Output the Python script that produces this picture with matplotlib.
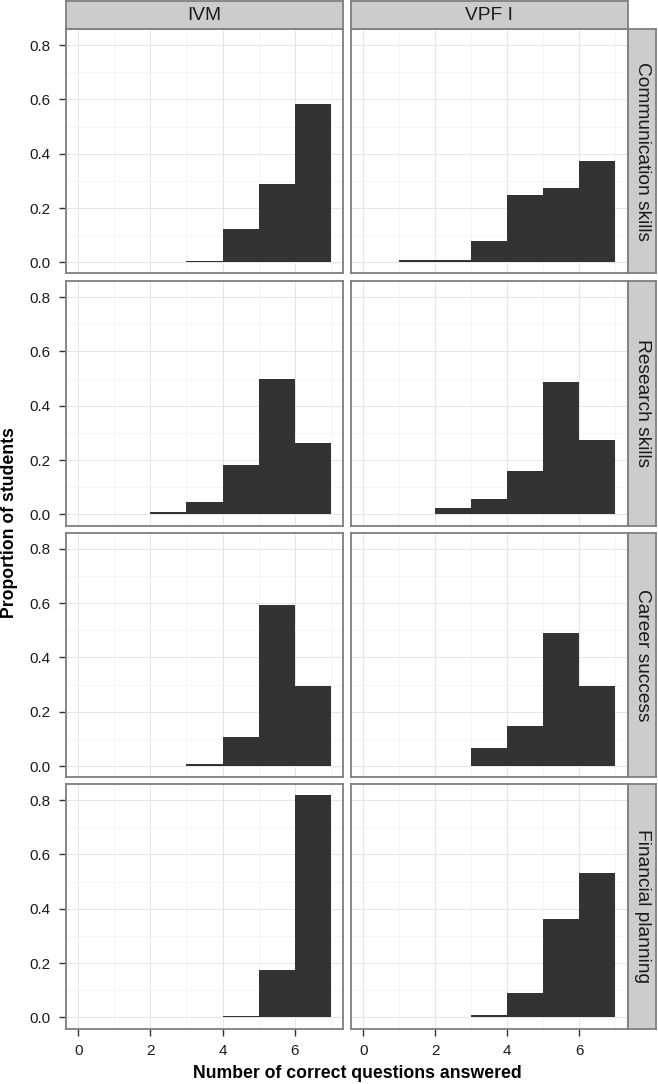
import matplotlib
matplotlib.use("Agg")
import matplotlib.pyplot as plt

plt.rcParams['font.family'] = ['Liberation Sans', 'DejaVu Sans']

# ---- data ----
bin_left = [0, 1, 2, 3, 4, 5, 6]
columns = ["IVM", "VPF I"]
rows = ["Communication skills", "Research skills", "Career success", "Financial planning"]

comm_ivm = [0, 0, 0, 0.005, 0.124, 0.290, 0.582]
comm_vpf = [0, 0.010, 0.010, 0.080, 0.248, 0.272, 0.373]
res_ivm = [0, 0, 0.007, 0.046, 0.182, 0.499, 0.263]
res_vpf = [0, 0, 0.022, 0.057, 0.159, 0.488, 0.272]
car_ivm = [0, 0, 0, 0.007, 0.106, 0.591, 0.296]
car_vpf = [0, 0, 0, 0.068, 0.147, 0.488, 0.296]
fin_ivm = [0, 0, 0, 0, 0.006, 0.173, 0.818]
fin_vpf = [0, 0, 0, 0.010, 0.091, 0.362, 0.533]

panel_values = [
    [comm_ivm, comm_vpf],
    [res_ivm, res_vpf],
    [car_ivm, car_vpf],
    [fin_ivm, fin_vpf],
]

x_ticks = [0, 2, 4, 6]
y_ticks = [0.0, 0.2, 0.4, 0.6, 0.8]
y_tick_labels = ["0.0", "0.2", "0.4", "0.6", "0.8"]
x_label = "Number of correct questions answered"
y_label = "Proportion of students"

# ---- layout (pixels) ----
W, H = 658, 1084
DPI = 100
fig = plt.figure(figsize=(W / DPI, H / DPI), dpi=DPI)

col_x = [65.5, 350.7]
col_w = [278.0, 277.0]
row_y = [29.0, 281.0, 532.7, 784.0]
row_h = 244.5
strip_top = 1.0
strip_h = 28.0
rstrip_x = 627.7
rstrip_w = 28.5

BORDER = "#7F7F7F"
STRIP_FILL = "#CCCCCC"
BAR = "#333333"

def fx(px):
    return px / W

def fy(py):
    return 1 - py / H

xlim = (-0.35, 7.35)
ymax = max(max(v) for r in panel_values for v in r)
ylim = (-0.05 * ymax, ymax * 1.05)

for r in range(4):
    for c in range(2):
        ax = fig.add_axes([fx(col_x[c]), fy(row_y[r] + row_h), col_w[c] / W, row_h / H])
        vals = panel_values[r][c]
        ax.bar(bin_left, vals, width=1.0, align='edge', color=BAR, linewidth=0, zorder=3)
        ax.set_xlim(*xlim)
        ax.set_ylim(*ylim)
        ax.set_xticks(x_ticks)
        ax.set_xticks([1, 3, 5, 7], minor=True)
        ax.set_yticks(y_ticks)
        ax.set_yticks([0.1, 0.3, 0.5, 0.7], minor=True)
        ax.grid(True, which='major', color="#E5E5E5", linewidth=0.7, zorder=0)
        ax.grid(True, which='minor', color="#F4F4F4", linewidth=0.6, zorder=0)
        ax.set_axisbelow(True)
        for s in ax.spines.values():
            s.set_color(BORDER)
            s.set_linewidth(1.3)
            s.set_zorder(5)
        ax.tick_params(which='minor', length=0)
        ax.tick_params(which='major', length=5, width=1.0, color="#333333",
                       labelsize=11, labelcolor="#1A1A1A")
        if c == 0:
            ax.set_yticklabels(y_tick_labels)
            ax.tick_params(axis='y', pad=6)
        else:
            ax.tick_params(axis='y', length=0, labelleft=False)
        if r == 3:
            ax.tick_params(axis='x', pad=6)
        else:
            ax.tick_params(axis='x', length=0, labelbottom=False)

        # top strips
        if r == 0:
            sax = fig.add_axes([fx(col_x[c]), fy(strip_top + strip_h), col_w[c] / W, strip_h / H])
            sax.set_facecolor(STRIP_FILL)
            sax.set_xticks([]); sax.set_yticks([])
            for s in sax.spines.values():
                s.set_color(BORDER); s.set_linewidth(1.3)
            sax.text(0.5, 0.47, columns[c], ha='center', va='center',
                     fontsize=13.8, color="#1A1A1A", transform=sax.transAxes)
    # right strips
    rax = fig.add_axes([fx(rstrip_x), fy(row_y[r] + row_h), rstrip_w / W, row_h / H])
    rax.set_facecolor(STRIP_FILL)
    rax.set_xticks([]); rax.set_yticks([])
    for s in rax.spines.values():
        s.set_color(BORDER); s.set_linewidth(1.3)
    rax.text(0.52, 0.5, rows[r], ha='center', va='center', rotation=-90,
             fontsize=13.8, color="#1A1A1A", transform=rax.transAxes)

fig.text(fx(357), fy(1074), x_label, ha='center', va='center',
         fontsize=12.7, fontweight='bold', color='black')
fig.text(fx(10), fy(523), y_label, ha='center', va='center', rotation=90,
         fontsize=12.7, fontweight='bold', color='black')

fig.savefig("out.png", dpi=DPI, facecolor='white')
